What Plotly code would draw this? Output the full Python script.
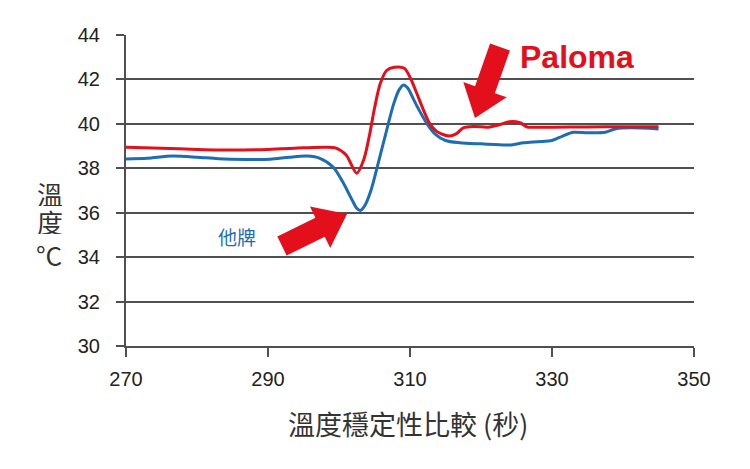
import math
import plotly.graph_objects as go

# ---- data ----
paloma_x = [270, 275, 280, 285, 290, 295, 298, 299.5, 301, 302.5, 303.5, 304.3, 305, 305.8, 306.7,
            307.8, 309.2, 310, 310.8, 311.8, 312.8, 313.8, 315.5, 316.5, 317.5, 319, 321, 322.5,
            324, 325.5, 326.5, 327.5, 330, 335, 340, 345]
paloma_y = [38.95, 38.9, 38.85, 38.82, 38.85, 38.92, 38.95, 38.92, 38.6, 37.78, 38.4, 39.5, 40.7,
            41.8, 42.4, 42.55, 42.5, 42.1, 41.5, 40.7, 40.0, 39.65, 39.45, 39.55, 39.82, 39.88,
            39.85, 39.95, 40.1, 40.05, 39.86, 39.85, 39.85, 39.86, 39.87, 39.87]

other_x = [270, 273, 276.5, 280, 283, 287, 290.3, 293, 295.5, 297.3, 299.2, 300.5, 301.8, 302.5,
           303, 303.6, 304.5, 305.5, 306.7, 307.7, 308.5, 309.1, 309.7, 310.5, 311.4, 312.5, 313.5,
           315, 317, 320, 324, 326, 328, 330, 331.5, 333, 335, 337.5, 339, 341, 345]
other_y = [38.42, 38.45, 38.55, 38.5, 38.43, 38.4, 38.41, 38.5, 38.55, 38.45, 38.05, 37.4, 36.6,
           36.2, 36.1, 36.3, 37.0, 38.2, 39.7, 40.9, 41.55, 41.75, 41.6, 41.1, 40.55, 39.95, 39.55,
           39.25, 39.15, 39.1, 39.05, 39.15, 39.2, 39.25, 39.45, 39.62, 39.6, 39.62, 39.78, 39.82, 39.77]

x_ticks = [270, 290, 310, 330, 350]
y_ticks = [30, 32, 34, 36, 38, 40, 42, 44]

RED = "#e3101c"
BLUE = "#1c6db3"
GRID = "#505050"
FONT = "Liberation Sans, Arial, Noto Sans CJK TC"

W, H = 750, 469
OFF = 8  # page offset of the figure in the browser window
PL, PR, PT, PB = 126, 694, 35, 346  # plot area in window pixels
L, T = PL - OFF, PT - OFF
R, B = W - (PR - OFF), H - (PB - OFF)
PW, PH = PR - PL, PB - PT


def to_paper(px, py):
    return (px - PL) / PW, (PB - py) / PH


def arrow_path(tail, tip, shaft_w, head_w, head_l):
    tx, ty = tail
    hx, hy = tip
    dx, dy = hx - tx, hy - ty
    ln = math.hypot(dx, dy)
    ux, uy = dx / ln, dy / ln
    nx, ny = -uy, ux
    bx, by = hx - ux * head_l, hy - uy * head_l
    pts = [
        (tx + nx * shaft_w / 2, ty + ny * shaft_w / 2),
        (bx + nx * shaft_w / 2, by + ny * shaft_w / 2),
        (bx + nx * head_w / 2, by + ny * head_w / 2),
        (hx, hy),
        (bx - nx * head_w / 2, by - ny * head_w / 2),
        (bx - nx * shaft_w / 2, by - ny * shaft_w / 2),
        (tx - nx * shaft_w / 2, ty - ny * shaft_w / 2),
    ]
    pp = [to_paper(x, y) for x, y in pts]
    return "M " + " L ".join(f"{x:.4f},{y:.4f}" for x, y in pp) + " Z"


fig = go.Figure()
fig.add_trace(go.Scatter(x=other_x, y=other_y, mode="lines",
                         line=dict(color=BLUE, width=3, shape="spline", smoothing=0.8),
                         name="他牌", showlegend=False))
fig.add_trace(go.Scatter(x=paloma_x, y=paloma_y, mode="lines",
                         line=dict(color=RED, width=3, shape="spline", smoothing=0.8),
                         name="Paloma", showlegend=False))

shapes = [
    dict(type="path", xref="paper", yref="paper",
         path=arrow_path((500, 47), (475, 118), 21, 46, 30),
         fillcolor=RED, line=dict(width=0)),
    dict(type="path", xref="paper", yref="paper",
         path=arrow_path((282, 246), (347, 214), 21, 46, 30),
         fillcolor=RED, line=dict(width=0)),
]


def label(text, px, py, size, color, family, height=None):
    x, y = to_paper(px, py)
    d = dict(text=text, x=x, y=y, xref="paper", yref="paper", xanchor="center",
             yanchor="middle", showarrow=False,
             font=dict(family=family, size=size, color=color))
    if height:
        d["height"] = height
    return d


CJK = "Noto Sans CJK TC"
ann = [
    label("<b>Paloma</b>", 577, 57, 32, RED, "Liberation Sans"),
    label("他牌", 237, 237, 19, BLUE, CJK),
    label("溫", 50, 193, 26, "#333", CJK, 26),
    label("度", 50, 221, 26, "#333", CJK, 26),
    label("°C", 49, 254, 26, "#333", CJK, 26),
    label("溫度穩定性比較 (秒)", 408, 423, 27, "#333", CJK),
]

fig.update_layout(
    width=W, height=H,
    margin=dict(l=L, r=R, t=T, b=B),
    paper_bgcolor="white", plot_bgcolor="white",
    font=dict(family=FONT, color="#222"),
    shapes=shapes, annotations=ann,
    xaxis=dict(range=[270, 350], tickvals=x_ticks, showgrid=False, zeroline=False,
               showline=True, linecolor=GRID, linewidth=2, ticks="outside", ticklen=9,
               tickwidth=2, tickcolor=GRID, tickfont=dict(size=20, color="#222"),
               ticklabelstandoff=5),
    yaxis=dict(range=[30, 44], tickvals=y_ticks, showgrid=True, gridcolor=GRID, gridwidth=2,
               zeroline=False, showline=True, linecolor=GRID, linewidth=2, ticks="outside",
               ticklen=8, tickwidth=2, tickcolor=GRID, tickfont=dict(size=20, color="#222"),
               ticklabelstandoff=12),
)

fig.write_html("out.html")
